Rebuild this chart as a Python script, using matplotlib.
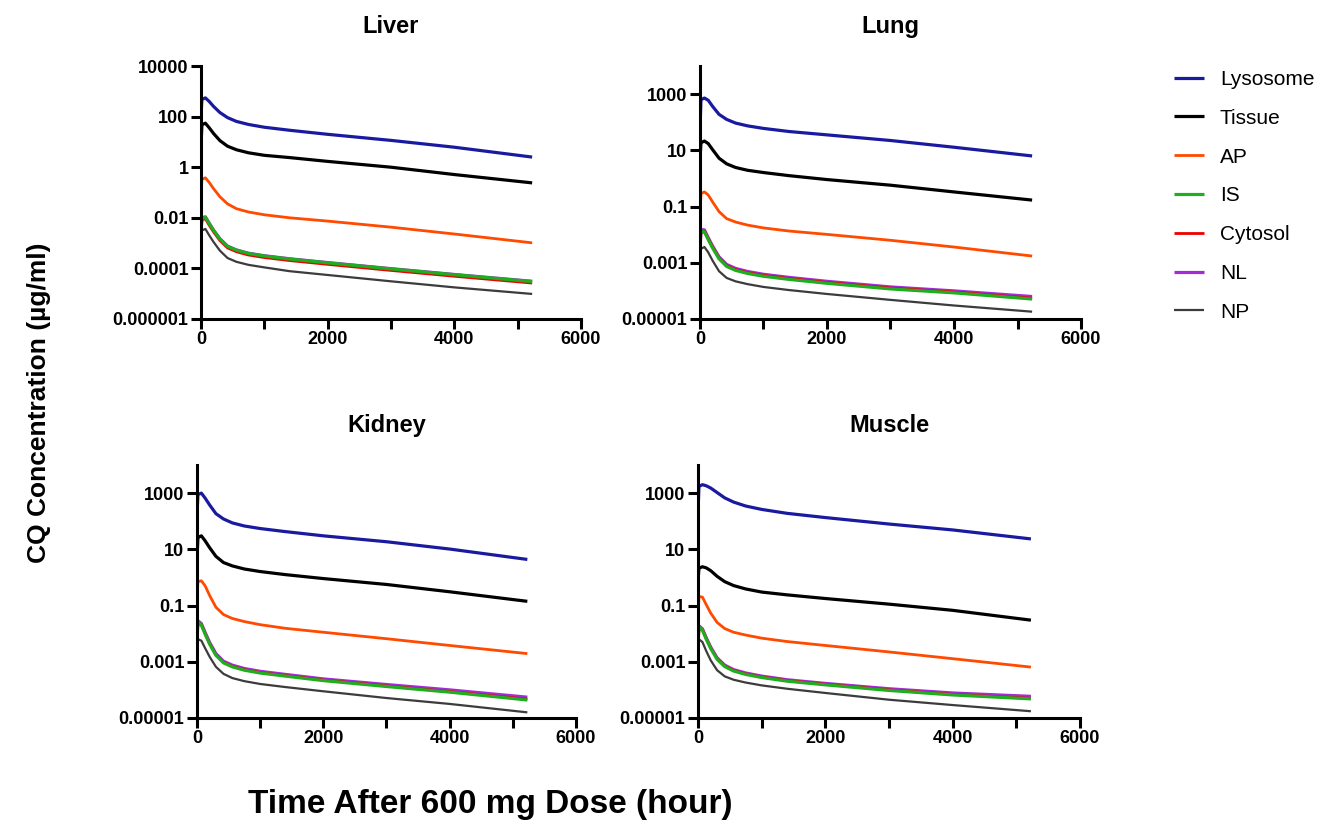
import numpy as np
import matplotlib
matplotlib.use('Agg')
import matplotlib.pyplot as plt
from matplotlib.ticker import FixedLocator, NullLocator

plt.rcParams['font.family'] = ['Liberation Sans', 'DejaVu Sans']

hours = [0, 15, 70, 130, 200, 300, 420, 560, 750, 1000, 1400, 2000, 3000, 4000, 5230]

series = ['Lysosome', 'Tissue', 'AP', 'IS', 'Cytosol', 'NL', 'NP']
colors = ['#1a1aa0', '#000000', '#ff4a00', '#1fae1f', '#ee0000', '#a52bd8', '#3c3c3c']
widths = [2.3, 2.3, 2.0, 2.3, 2.0, 2.3, 1.6]
zorders = [3, 3, 3, 6, 5, 4, 7]  # зелёная поверх красной и фиолетовой

liver = {
    'Lysosome': [2.0, 2.68, 2.74, 2.60, 2.40, 2.16, 1.96, 1.81, 1.69, 1.58, 1.46, 1.30, 1.06, 0.79, 0.40],
    'Tissue':   [0.79, 1.68, 1.74, 1.56, 1.33, 1.05, 0.83, 0.69, 0.57, 0.47, 0.38, 0.23, 0.0, -0.29, -0.62],
    'AP':       [-1.25, -0.48, -0.42, -0.60, -0.85, -1.17, -1.45, -1.64, -1.77, -1.88, -2.00, -2.13, -2.37, -2.64, -2.99],
    'IS':       [-2.4, -2.02, -1.98, -2.23, -2.50, -2.84, -3.13, -3.28, -3.41, -3.51, -3.63, -3.78, -4.02, -4.25, -4.52],
    'Cytosol':  [-2.83, -2.08, -2.04, -2.29, -2.56, -2.90, -3.19, -3.34, -3.47, -3.57, -3.69, -3.84, -4.08, -4.31, -4.58],
    'NL':       [-2.5, -2.0, -1.96, -2.21, -2.49, -2.83, -3.12, -3.27, -3.40, -3.50, -3.62, -3.77, -4.01, -4.24, -4.51],
    'NP':       [-3.3, -2.5, -2.44, -2.69, -2.96, -3.30, -3.59, -3.74, -3.86, -3.96, -4.11, -4.26, -4.51, -4.75, -5.01],
}
lung = {
    'Lysosome': [1.73, 2.80, 2.86, 2.78, 2.56, 2.28, 2.10, 1.97, 1.87, 1.78, 1.67, 1.55, 1.35, 1.11, 0.80],
    'Tissue':   [0.65, 1.27, 1.33, 1.24, 1.02, 0.72, 0.52, 0.39, 0.29, 0.21, 0.10, -0.04, -0.24, -0.48, -0.77],
    'AP':       [-1.43, -0.54, -0.48, -0.59, -0.84, -1.18, -1.43, -1.55, -1.66, -1.76, -1.87, -1.99, -2.20, -2.44, -2.76],
    'IS':       [-2.2, -1.87, -1.90, -2.18, -2.48, -2.86, -3.13, -3.27, -3.38, -3.48, -3.59, -3.73, -3.93, -4.07, -4.29],
    'Cytosol':  [-2.92, -1.95, -1.88, -2.15, -2.45, -2.83, -3.10, -3.24, -3.35, -3.45, -3.56, -3.70, -3.90, -4.04, -4.26],
    'NL':       [-2.4, -1.82, -1.83, -2.11, -2.41, -2.79, -3.06, -3.20, -3.31, -3.41, -3.52, -3.66, -3.86, -4.00, -4.20],
    'NP':       [-3.2, -2.5, -2.44, -2.63, -2.93, -3.30, -3.54, -3.66, -3.76, -3.86, -3.97, -4.11, -4.32, -4.52, -4.74],
}
kidney = {
    'Lysosome': [2.17, 2.95, 3.0, 2.82, 2.58, 2.27, 2.08, 1.94, 1.83, 1.74, 1.63, 1.48, 1.27, 1.01, 0.64],
    'Tissue':   [0.62, 1.42, 1.48, 1.30, 1.06, 0.75, 0.53, 0.41, 0.30, 0.21, 0.10, -0.04, -0.25, -0.51, -0.85],
    'AP':       [-0.75, -0.15, -0.12, -0.30, -0.64, -1.06, -1.32, -1.46, -1.57, -1.68, -1.81, -1.95, -2.18, -2.42, -2.71],
    'IS':       [-2.0, -1.58, -1.70, -2.02, -2.37, -2.77, -3.04, -3.18, -3.30, -3.40, -3.51, -3.67, -3.88, -4.08, -4.36],
    'Cytosol':  [-2.7, -1.65, -1.68, -2.00, -2.35, -2.75, -3.02, -3.16, -3.28, -3.38, -3.49, -3.65, -3.86, -4.06, -4.33],
    'NL':       [-2.1, -1.54, -1.64, -1.96, -2.31, -2.71, -2.98, -3.12, -3.24, -3.34, -3.45, -3.61, -3.81, -4.00, -4.26],
    'NP':       [-2.9, -2.2, -2.25, -2.52, -2.82, -3.18, -3.43, -3.58, -3.69, -3.79, -3.90, -4.05, -4.29, -4.50, -4.80],
}
muscle = {
    'Lysosome': [2.29, 3.24, 3.30, 3.26, 3.18, 3.02, 2.83, 2.68, 2.54, 2.42, 2.28, 2.13, 1.90, 1.69, 1.37],
    'Tissue':   [-0.15, 0.33, 0.38, 0.34, 0.24, 0.04, -0.15, -0.29, -0.41, -0.52, -0.62, -0.75, -0.95, -1.17, -1.52],
    'AP':       [-1.40, -0.68, -0.70, -0.97, -1.27, -1.60, -1.82, -1.95, -2.05, -2.16, -2.28, -2.42, -2.65, -2.89, -3.19],
    'IS':       [-2.2, -1.76, -1.88, -2.20, -2.53, -2.91, -3.17, -3.33, -3.45, -3.56, -3.69, -3.82, -4.02, -4.18, -4.32],
    'Cytosol':  [-2.75, -1.82, -1.86, -2.18, -2.51, -2.89, -3.15, -3.31, -3.43, -3.54, -3.67, -3.80, -4.00, -4.16, -4.30],
    'NL':       [-2.3, -1.72, -1.83, -2.15, -2.48, -2.86, -3.12, -3.28, -3.40, -3.51, -3.64, -3.77, -3.96, -4.11, -4.23],
    'NP':       [-3.0, -2.2, -2.30, -2.62, -2.95, -3.30, -3.52, -3.64, -3.74, -3.84, -3.96, -4.11, -4.35, -4.54, -4.76],
}

liver_ticks = [1e4, 1e2, 1, 1e-2, 1e-4, 1e-6]
liver_labels = ['10000', '100', '1', '0.01', '0.0001', '0.000001']
other_ticks = [1e3, 1e1, 1e-1, 1e-3, 1e-5]
other_labels = ['1000', '10', '0.1', '0.001', '0.00001']

panels = [
    ('Liver', liver, [0.1512, 0.6124, 0.2859, 0.3074], (1e-6, 1e4), liver_ticks, liver_labels),
    ('Lung', lung, [0.5267, 0.6124, 0.2867, 0.3074], (1e-5, 1e4), other_ticks, other_labels),
    ('Kidney', kidney, [0.1482, 0.1276, 0.2852, 0.3074], (1e-5, 1e4), other_ticks, other_labels),
    ('Muscle', muscle, [0.5252, 0.1276, 0.2874, 0.3074], (1e-5, 1e4), other_ticks, other_labels),
]

fig = plt.figure(figsize=(13.29, 8.23), dpi=100)

for title, data, rect, ylim, yt, ylab in panels:
    ax = fig.add_axes(rect)
    for name, col, lw, zo in zip(series, colors, widths, zorders):
        ax.plot(hours, 10 ** np.array(data[name]), color=col, lw=lw, label=name,
                zorder=zo, solid_joinstyle='round', solid_capstyle='butt')
    ax.set_yscale('log')
    ax.set_xlim(0, 6000)
    ax.set_ylim(*ylim)
    ax.yaxis.set_major_locator(FixedLocator(yt))
    ax.set_yticklabels(ylab)
    ax.yaxis.set_minor_locator(NullLocator())
    ax.set_xticks([0, 2000, 4000, 6000])
    ax.set_xticklabels(['0', '2000', '4000', '6000'])
    ax.set_xticks([1000, 3000, 5000], minor=True)
    for s in ['top', 'right']:
        ax.spines[s].set_visible(False)
    for s in ['left', 'bottom']:
        ax.spines[s].set_linewidth(2.2)
        ax.spines[s].set_zorder(8)
    ax.tick_params(which='both', direction='out', length=7, width=2.2, pad=2)
    ax.tick_params(labelsize=13)
    for lbl in ax.get_xticklabels() + ax.get_yticklabels():
        lbl.set_fontweight('bold')
    ax.set_title(title, fontsize=17, fontweight='bold', pad=24)
    ax.patch.set_alpha(0)

handles, labels = ax.get_legend_handles_labels()
fig.legend(handles, labels, loc='upper left', bbox_to_anchor=(1174 / 1329, 1 - 70 / 823),
           frameon=False, fontsize=15, handlelength=1.45, handletextpad=0.75,
           labelspacing=0.95, borderpad=0, borderaxespad=0)

fig.text(0.029, 0.511, 'CQ Concentration (µg/ml)', rotation=90, fontsize=19,
         fontweight='bold', ha='center', va='center')
fig.text(0.369, 0.022, 'Time After 600 mg Dose (hour)', fontsize=24,
         fontweight='bold', ha='center', va='center')

fig.savefig('out.png', dpi=100)
